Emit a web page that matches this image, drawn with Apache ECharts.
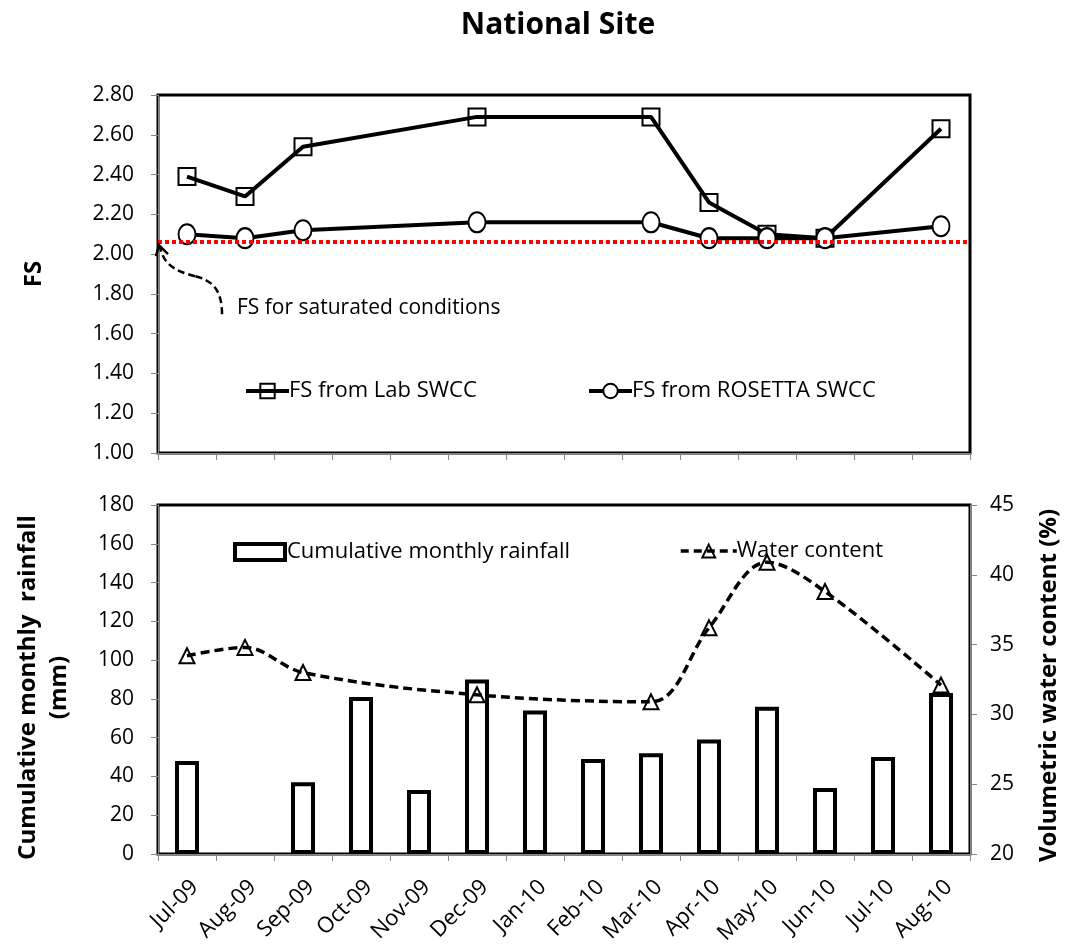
<!DOCTYPE html>
<html>
<head>
<meta charset="utf-8">
<title>National Site</title>
<script src="https://cdn.jsdelivr.net/npm/echarts@6/dist/echarts.min.js"></script>
<style>
  html, body { margin: 0; padding: 0; background: #fff; }
  #chart { width: 1071px; height: 947px; }
</style>
</head>
<body>
<div id="chart"></div>
<script>
// Months shared by both panels
const months = ['Jul-09', 'Aug-09', 'Sep-09', 'Oct-09', 'Nov-09', 'Dec-09', 'Jan-10',
                'Feb-10', 'Mar-10', 'Apr-10', 'May-10', 'Jun-10', 'Jul-10', 'Aug-10'];

// Factor of safety (top panel); null where no survey was made
const fsLab      = [2.39, 2.29, 2.54, null, null, 2.69, null, null, 2.69, 2.26, 2.10, 2.08, null, 2.63];
const fsRosetta  = [2.10, 2.08, 2.12, null, null, 2.16, null, null, 2.16, 2.08, 2.08, 2.08, null, 2.14];
const fsSaturated = 2.06;

// Rainfall (mm) and volumetric water content (%) (bottom panel)
const rainfall     = [48, null, 37, 81, 33, 90, 74, 49, 52, 59, 76, 34, 50, 83];
const waterContent = [34.2, 34.8, 33.0, null, null, 31.4, null, null, 30.9, 36.2, 40.9, 38.8, null, 32.1];

const FONT = 'Open Sans';
const GREY = '#868686';

const chart = echarts.init(document.getElementById('chart'), null, { renderer: 'canvas' });

const baseValueAxis = {
  axisLine: { show: true, lineStyle: { color: GREY, width: 1 } },
  axisTick: { show: true, inside: false, length: 7, lineStyle: { color: GREY } },
  splitLine: { show: false },
  axisLabel: { color: '#000', fontFamily: FONT, fontSize: 21 },
  nameTextStyle: { color: '#000', fontFamily: FONT, fontSize: 24, fontWeight: 'bold' },
  nameLocation: 'middle',
  nameRotate: 90
};

const legendText = { fontFamily: FONT, fontSize: 22, color: '#000' };

const option = {
  backgroundColor: '#fff',
  animation: false,
  textStyle: { fontFamily: FONT },
  title: {
    text: 'National Site',
    left: 553,
    top: 5,
    textAlign: 'center',
    textStyle: { fontFamily: FONT, fontSize: 30, fontWeight: 'bold', color: '#000' }
  },
  legend: [
    {
      data: ['FS from Lab SWCC'],
      left: 244, top: 380, padding: 0, itemWidth: 43, itemHeight: 18, itemGap: 0,
      lineStyle: { width: 4, color: '#000' },
      textStyle: Object.assign({ padding: [0, 0, 0, -5] }, legendText)
    },
    {
      data: ['FS from ROSETTA SWCC'],
      left: 587, top: 380, padding: 0, itemWidth: 43, itemHeight: 18, itemGap: 0,
      lineStyle: { width: 4, color: '#000' },
      textStyle: Object.assign({ padding: [0, 0, 0, -5] }, legendText)
    },
    {
      data: [{ name: 'Cumulative monthly rainfall', icon: 'rect' }],
      left: 233, top: 541, padding: 0, itemWidth: 50, itemHeight: 16, itemGap: 0,
      itemStyle: { color: '#fff', borderColor: '#000', borderWidth: 4 },
      textStyle: Object.assign({ padding: [0, 0, 0, -3] }, legendText)
    },
    {
      data: ['Water content'],
      left: 679, top: 540, padding: 0, itemWidth: 56, itemHeight: 16, itemGap: 0,
      lineStyle: { width: 3.5, color: '#000', type: [8, 5] },
      textStyle: Object.assign({ padding: [0, 0, 0, -5] }, legendText)
    }
  ],
  grid: [
    { left: 158, right: 101, top: 95, height: 358, show: true, borderColor: '#000', borderWidth: 3, backgroundColor: '#fff' },
    { left: 158, right: 101, top: 505, height: 349, show: true, borderColor: '#000', borderWidth: 3, backgroundColor: '#fff' }
  ],
  xAxis: [
    {
      type: 'category', gridIndex: 0, data: months, boundaryGap: true,
      axisLine: { show: true, lineStyle: { color: GREY } },
      axisTick: { show: true, length: 7, lineStyle: { color: GREY } },
      axisLabel: { show: false }
    },
    {
      type: 'category', gridIndex: 1, data: months, boundaryGap: true,
      axisLine: { show: true, lineStyle: { color: GREY } },
      axisTick: { show: true, length: 7, lineStyle: { color: GREY } },
      axisLabel: {
        show: true, rotate: 45, interval: 0, margin: 22,
        align: 'right', verticalAlign: 'top',
        color: '#000', fontFamily: FONT, fontSize: 22
      }
    }
  ],
  yAxis: [
    Object.assign({}, baseValueAxis, {
      type: 'value', gridIndex: 0, min: 1, max: 2.8, interval: 0.2,
      name: 'FS', nameGap: 112,
      axisLabel: Object.assign({}, baseValueAxis.axisLabel, { margin: 24, formatter: v => v.toFixed(2) })
    }),
    Object.assign({}, baseValueAxis, {
      type: 'value', gridIndex: 1, min: 0, max: 180, interval: 20, position: 'left',
      name: 'Cumulative monthly  rainfall\n(mm)', nameGap: 83,
      nameTextStyle: Object.assign({}, baseValueAxis.nameTextStyle, { lineHeight: 31, padding: [0, 16, 0, 0] }),
      axisLabel: Object.assign({}, baseValueAxis.axisLabel, { margin: 24 })
    }),
    Object.assign({}, baseValueAxis, {
      type: 'value', gridIndex: 1, min: 20, max: 45, interval: 5, position: 'right',
      name: 'Volumetric water content (%)', nameGap: 67, nameRotate: 90,
      nameTextStyle: Object.assign({}, baseValueAxis.nameTextStyle, { padding: [0, 12, 0, 0] }),
      axisLabel: Object.assign({}, baseValueAxis.axisLabel, { margin: 20 })
    })
  ],
  series: [
    {
      name: 'FS from Lab SWCC', type: 'line', xAxisIndex: 0, yAxisIndex: 0,
      data: fsLab, connectNulls: true,
      symbol: 'rect', symbolSize: 17,
      lineStyle: { color: '#000', width: 4 },
      itemStyle: { color: 'rgba(255,255,255,0)', borderColor: '#000', borderWidth: 2 },
      z: 3,
      markLine: {
        silent: true, symbol: 'none', label: { show: false },
        lineStyle: { color: '#ff0000', type: [4, 3], width: 4 },
        data: [{ yAxis: fsSaturated }]
      }
    },
    {
      name: 'FS from ROSETTA SWCC', type: 'line', xAxisIndex: 0, yAxisIndex: 0,
      data: fsRosetta, connectNulls: true,
      symbol: 'circle', symbolSize: [17, 20],
      lineStyle: { color: '#000', width: 4 },
      itemStyle: { color: '#fff', borderColor: '#000', borderWidth: 2 },
      z: 4
    },
    {
      name: 'Cumulative monthly rainfall', type: 'bar', xAxisIndex: 1, yAxisIndex: 1,
      data: rainfall, barWidth: 24,
      itemStyle: { color: '#fff', borderColor: '#000', borderWidth: 4 }
    },
    {
      name: 'Water content', type: 'line', xAxisIndex: 1, yAxisIndex: 2,
      data: waterContent, connectNulls: true, smooth: 0.35,
      symbol: 'triangle', symbolSize: 15,
      lineStyle: { color: '#000', width: 3.5, type: [9, 5] },
      itemStyle: { color: 'rgba(255,255,255,0)', borderColor: '#000', borderWidth: 2 },
      z: 5
    }
  ]
};

chart.setOption(option);

// Note pointing at the saturated factor-of-safety line
const tipY = chart.convertToPixel({ yAxisIndex: 0 }, fsSaturated);
const tipX = 159;
const noteStroke = { fill: null, stroke: '#000', lineWidth: 2.5, lineDash: [7, 4] };
chart.setOption({
  graphic: [
    {
      type: 'bezierCurve',
      shape: {
        x1: tipX + 63, y1: tipY + 72,
        cpx1: tipX + 63, cpy1: tipY + 46,
        cpx2: tipX + 52, cpy2: tipY + 38,
        x2: tipX + 36, y2: tipY + 34
      },
      style: noteStroke,
      z: 10
    },
    {
      type: 'bezierCurve',
      shape: {
        x1: tipX + 36, y1: tipY + 34,
        cpx1: tipX + 16, cpy1: tipY + 29,
        cpx2: tipX + 4, cpy2: tipY + 22,
        x2: tipX + 1, y2: tipY + 4
      },
      style: noteStroke,
      z: 10
    },
    {
      type: 'polyline',
      shape: { points: [[tipX - 3, tipY + 14], [tipX, tipY + 3], [tipX + 9, tipY + 12]] },
      style: { fill: null, stroke: '#000', lineWidth: 2.5 },
      z: 10
    },
    {
      type: 'text',
      x: 237, y: tipY + 55,
      style: { text: 'FS for saturated conditions', font: '21px "Open Sans"', fill: '#000' },
      z: 10
    }
  ]
});
</script>
</body>
</html>
